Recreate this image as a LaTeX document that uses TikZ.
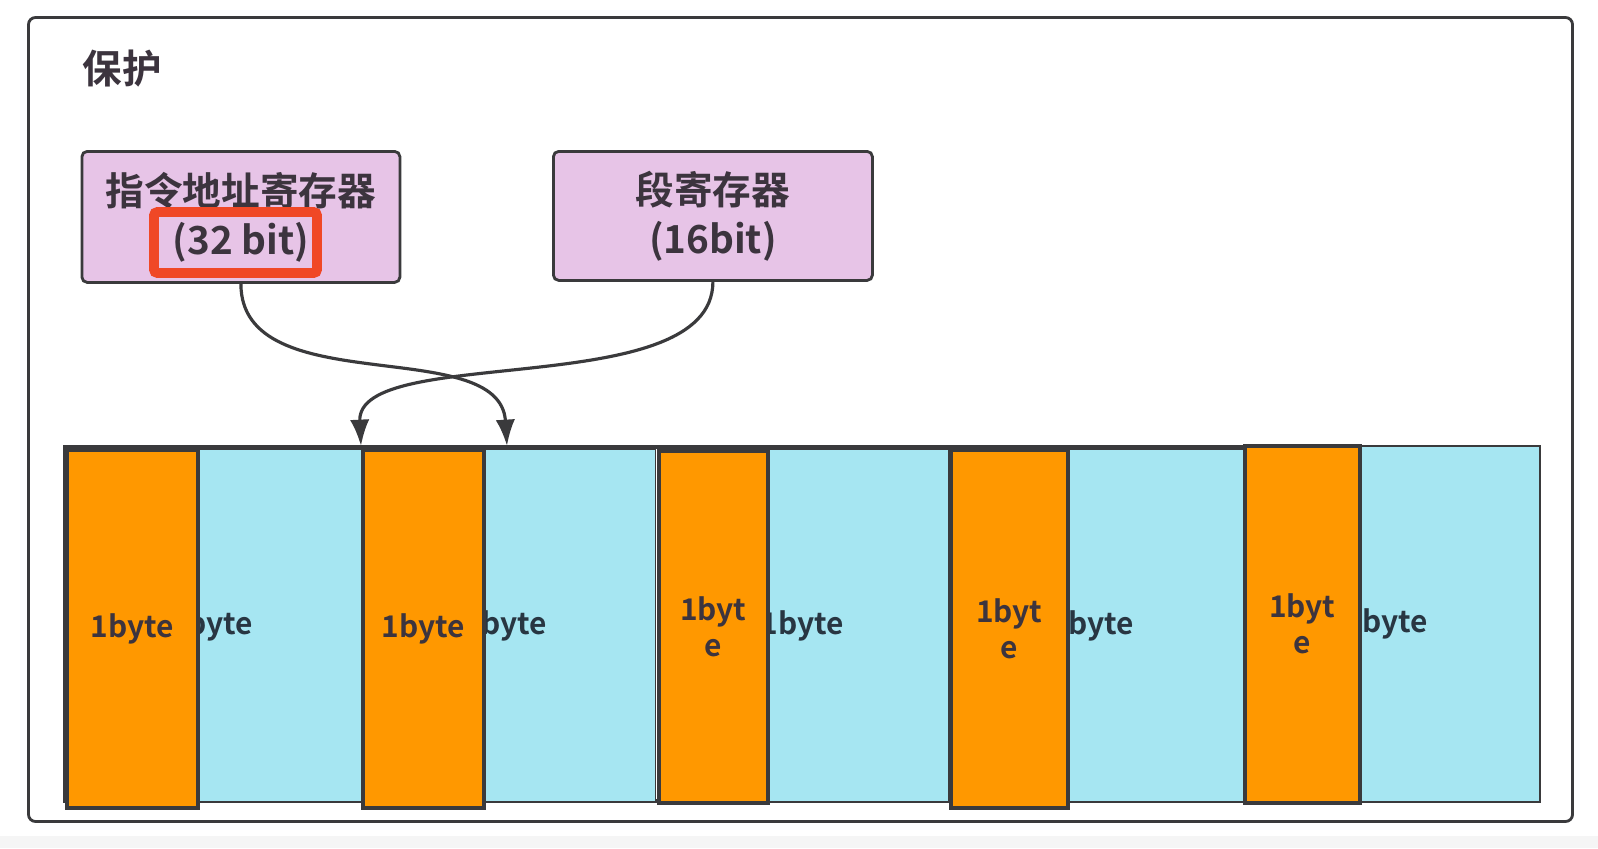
\documentclass[tikz,border=0pt]{standalone}
\usepackage{fontspec}
\setmainfont{Noto Sans CJK SC}[BoldFont={Noto Sans CJK SC Bold}]
\usepackage{xcolor}
\usetikzlibrary{arrows.meta, calc, math, positioning}
\definecolor{myframe}{RGB}{58,58,60}
\definecolor{mypink}{RGB}{231,196,231}
\definecolor{myorange}{RGB}{255,152,0}
\definecolor{mycyan}{RGB}{166,230,242}
\definecolor{myred}{RGB}{240,72,38}
\definecolor{mytext}{RGB}{60,52,62}
\definecolor{mycyantext}{RGB}{40,54,66}
\newcommand{\px}{0.02cm}

\begin{document}
\begin{tikzpicture}[x=0.02cm, y=-0.02cm,
  reg/.style={draw=myframe, fill=mypink, line width=1.6pt, rounded corners=3pt, anchor=north west, inner sep=0pt, align=center, text=mytext, font=\bfseries\fontsize{22}{28}\selectfont},
  hib/.style={draw=myframe, fill=myorange, line width=2pt, anchor=north west, inner sep=0pt, align=center, text=mytext, font=\bfseries\fontsize{17}{20.5}\selectfont},
  lob/.style={draw=myframe, fill=mycyan, line width=0.8pt, anchor=north west, inner sep=0pt},
  lolabel/.style={anchor=east, inner sep=0pt, text=mycyantext, font=\bfseries\fontsize{17}{20.5}\selectfont},
  link/.style={draw=myframe, line width=1.8pt, -{Latex[length=15pt,width=11pt]}},
]
\tikzmath{
\W=1598;
\H=848;
}
\useasboundingbox (0,0) rectangle (\W,\H);
\fill[white] (0,0) rectangle (\W,\H);
\fill[gray!8] (0,836) rectangle (\W,\H);

\draw[myframe, line width=1.6pt, rounded corners=4pt] (28.5,17.5) rectangle (1572.5,821.5);
\node[text=mytext, font=\bfseries\fontsize{22.5}{27}\selectfont] (title) at (122,69) {保护};

\node[reg, minimum width=318*\px, minimum height=131*\px] (ipreg) at (80.5,150) {指令地址寄存器\\(32 bit)};
\node[reg, minimum width=319*\px, minimum height=129*\px] (segreg) at (552,150) {段寄存器\\(16bit)};
\node[draw=myred, line width=5.6pt, rounded corners=2pt, minimum width=163*\px, minimum height=61*\px] (mark) at (235.5,242.5) {};

\draw[myframe, line width=2.4pt] (65,447) rectangle (1539,801);

\node[lob, minimum width=165*\px, minimum height=352*\px] (C1) at (196,449) {};
\node[lob, minimum width=173*\px, minimum height=352*\px] (C2) at (482,449) {};
\node[lob, minimum width=182*\px, minimum height=352*\px] (C3) at (766,449) {};
\node[lob, minimum width=177*\px, minimum height=352*\px] (C4) at (1066,449) {};
\node[lob, minimum width=181*\px, minimum height=355*\px] (C5) at (1358,446) {};

\node[lolabel] (L1) at ($(C1.west)+(57,0)$) {1byte};
\node[lolabel] (L2) at ($(C2.west)+(65,0)$) {1byte};
\node[lolabel] (L3) at ($(C3.west)+(78,0)$) {1byte};
\node[lolabel] (L4) at ($(C4.west)+(68,0)$) {1byte};
\node[lolabel] (L5) at ($(C5.west)+(70,0)$) {1byte};

\node[hib, minimum width=131*\px, minimum height=358*\px] (O1) at (65,448) {1byte};
\node[hib, minimum width=121*\px, minimum height=358*\px] (O2) at (361,448) {1byte};
\node[hib, minimum width=109*\px, minimum height=352*\px] (O3) at (657,449) {1byt\\e};
\node[hib, minimum width=117*\px, minimum height=358*\px] (O4) at (949,448) {1byt\\e};
\node[hib, minimum width=115*\px, minimum height=357*\px] (O5) at (1243,444) {1byt\\e};

\draw[link] (ipreg.south) .. controls +(0,119) and +(-7,-113) .. ($(C2.north west)+(25,-3)$);
\draw[link] (segreg.south) .. controls +(0,121) and +(-5,-103) .. ($(O2.north west)+(0,-2)$);
\end{tikzpicture}
\end{document}
